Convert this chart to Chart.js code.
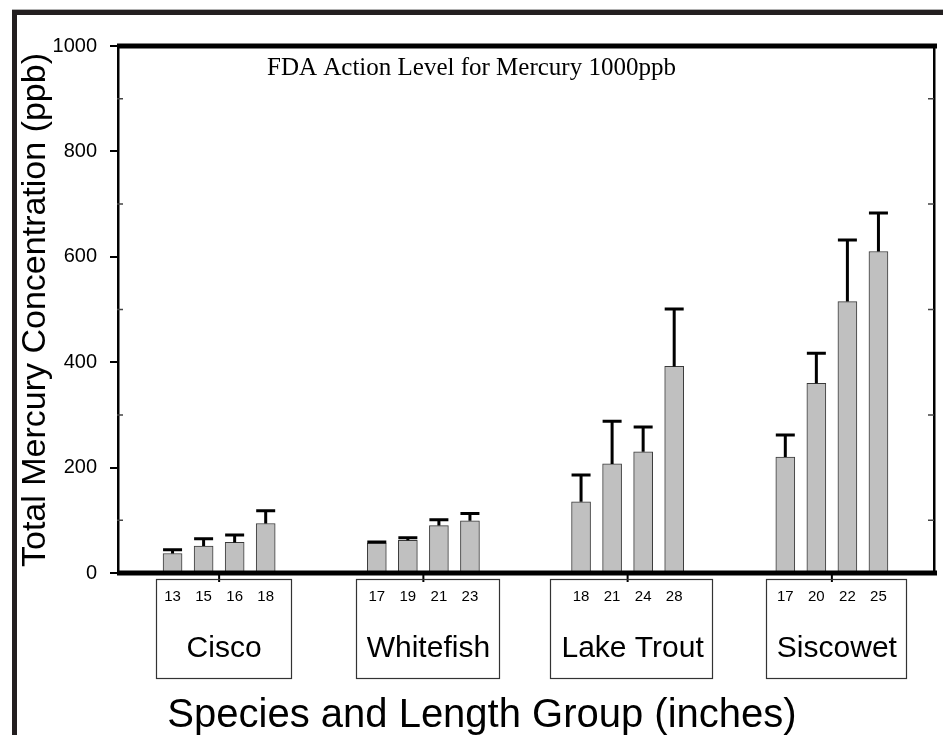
<!DOCTYPE html>
<html>
<head>
<meta charset="utf-8">
<title>Mercury in fish by species and length</title>
<script src="https://cdn.jsdelivr.net/npm/chart.js@4.4.1/dist/chart.umd.min.js"></script>
<style>
  html, body { margin: 0; padding: 0; background: #fff; }
  #wrap { width: 943px; height: 735px; }
</style>
</head>
<body>
<div id="wrap"><canvas id="mercuryChart" width="943" height="735"></canvas></div>
<script>
// species, and the length classes (inches) measured for each one
const species = ['Cisco', 'Whitefish', 'Lake Trout', 'Siscowet'];
const lengthGroups = ['13', '15', '16', '18', '17', '19', '21', '23', '18', '21', '24', '28', '17', '20', '22', '25'];
// mean total mercury (ppb) per length class
const meanMercury = [37, 51, 58, 94, 57, 62, 90, 99, 135, 207, 230, 392, 220, 360, 515, 610];
// height of the upper error bar above each mean (ppb)
const errorMercury = [7, 14, 14, 24, 2, 5, 11, 14, 51, 81, 47, 109, 42, 57, 117, 73];
const yTicks = [0, 200, 400, 600, 800, 1000];
const fdaNote = 'FDA Action Level for Mercury 1000ppb';
const xTitle = 'Species and Length Group (inches)';
const yTitle = 'Total Mercury Concentration (ppb)';

const SANS = "'Liberation Sans', Arial, Helvetica, sans-serif";
const SERIF = "'Liberation Serif', 'Times New Roman', serif";
const perGroup = lengthGroups.length / species.length;
const barStep = 0.152; // spacing of bars inside a group, in group units

// group g sits at x = g + 1, its bars spread around it
const barX = (i) => Math.floor(i / perGroup) + 1 + ((i % perGroup) - (perGroup - 1) / 2) * barStep;

const barData = meanMercury.map((v, i) => ({ x: barX(i), y: v }));

const decorPlugin = {
    id: 'decor',
    beforeDraw(chart) {
        const ctx = chart.ctx;
        ctx.save();
        ctx.fillStyle = '#fff';
        ctx.fillRect(0, 0, chart.width, chart.height);
        // outer frame (top and left only)
        ctx.fillStyle = '#b0b0b0';
        ctx.fillRect(12, 9, chart.width - 12, 1);
        ctx.fillStyle = '#231f20';
        ctx.fillRect(12, 10, chart.width - 12, 5);
        ctx.fillRect(12, 10, 5, chart.height - 10);
        ctx.restore();
    },
    afterDatasetsDraw(chart) {
        const ctx = chart.ctx;
        const area = chart.chartArea;
        const xs = chart.scales.x;
        const ys = chart.scales.y;
        const meta = chart.getDatasetMeta(0);
        ctx.save();

        // error bars (upper whisker only)
        ctx.strokeStyle = '#000';
        ctx.lineWidth = 3;
        meta.data.forEach((bar, i) => {
            const top = ys.getPixelForValue(meanMercury[i] + errorMercury[i]);
            const half = bar.width / 2;
            ctx.beginPath();
            ctx.moveTo(bar.x, bar.y);
            ctx.lineTo(bar.x, top);
            ctx.moveTo(bar.x - half, top);
            ctx.lineTo(bar.x + half, top);
            ctx.stroke();
        });

        // frame of the plot
        ctx.fillStyle = '#000';
        ctx.fillRect(area.left, area.top - 2.5, area.right - area.left + 3, 5);
        ctx.fillRect(area.left, area.bottom - 2.5, area.right - area.left + 3, 5);
        ctx.fillRect(area.left, area.top, 2.5, area.bottom - area.top);
        ctx.fillRect(area.right - 1, area.top, 2.5, area.bottom - area.top);

        // minor ticks pointing inward
        ctx.strokeStyle = '#444';
        ctx.lineWidth = 1.5;
        for (let v = 100; v < 1000; v += 200) {
            const y = ys.getPixelForValue(v);
            ctx.beginPath();
            ctx.moveTo(area.left, y);
            ctx.lineTo(area.left + 6, y);
            ctx.moveTo(area.right - 6, y);
            ctx.lineTo(area.right, y);
            ctx.stroke();
        }

        // group ticks, boxes and species names under the axis
        ctx.font = '30px ' + SANS;
        ctx.textAlign = 'center';
        ctx.textBaseline = 'alphabetic';
        species.forEach((name, g) => {
            const cx = xs.getPixelForValue(g + 1);
            ctx.strokeStyle = '#000';
            ctx.lineWidth = 2;
            ctx.beginPath();
            ctx.moveTo(cx, area.bottom + 2);
            ctx.lineTo(cx, area.bottom + 9);
            ctx.stroke();

            const w = Math.max(ctx.measureText(name).width + 20, 135);
            ctx.strokeStyle = '#333';
            ctx.lineWidth = 1.2;
            ctx.strokeRect(Math.round(cx + 4 - w / 2) + 0.5, area.bottom + 6.5, Math.round(w), 99);
            ctx.fillStyle = '#000';
            ctx.fillText(name, cx + 5, area.bottom + 84);
        });

        // note at the top
        ctx.font = '25px ' + SERIF;
        ctx.textAlign = 'left';
        ctx.fillText(fdaNote, 267, 75);

        // axis titles
        ctx.font = '40px ' + SANS;
        ctx.textAlign = 'center';
        ctx.fillText(xTitle, 482, 727);

        ctx.font = '34px ' + SANS;
        ctx.translate(45, 310);
        ctx.rotate(-Math.PI / 2);
        ctx.fillText(yTitle, 0, 0);
        ctx.restore();
    }
};

const ctx = document.getElementById('mercuryChart').getContext('2d');
new Chart(ctx, {
    type: 'bar',
    data: {
        datasets: [{
            data: barData,
            backgroundColor: '#c0c0c0',
            borderColor: '#3a3a3a',
            borderWidth: 1,
            barThickness: 19
        }]
    },
    options: {
        responsive: false,
        animation: false,
        devicePixelRatio: 1,
        layout: { padding: { left: 0, top: 46, right: 9, bottom: 0 } },
        plugins: {
            legend: { display: false },
            tooltip: { enabled: false }
        },
        scales: {
            x: {
                type: 'linear',
                min: 0.5,
                max: 4.5,
                offset: false,
                afterFit: (scale) => { scale.height = 162; },
                afterBuildTicks: (scale) => {
                    scale.ticks = lengthGroups.map((_, i) => ({ value: barX(i) }));
                },
                grid: { display: true, drawOnChartArea: false, drawTicks: false },
                border: { display: false },
                ticks: {
                    autoSkip: false,
                    maxRotation: 0,
                    padding: 15,
                    color: '#000',
                    font: { family: SANS, size: 15 },
                    callback: (value, index) => lengthGroups[index]
                }
            },
            y: {
                min: 0,
                max: 1000,
                afterFit: (scale) => { scale.width = 117; },
                afterBuildTicks: (scale) => {
                    scale.ticks = yTicks.map(v => ({ value: v }));
                },
                grid: { display: true, drawOnChartArea: false, drawTicks: true, tickLength: 7, color: '#000', lineWidth: 2 },
                border: { display: false },
                ticks: {
                    padding: 13,
                    color: '#000',
                    font: { family: SANS, size: 20 },
                    callback: (value) => String(value)
                }
            }
        }
    },
    plugins: [decorPlugin]
});
</script>
</body>
</html>
